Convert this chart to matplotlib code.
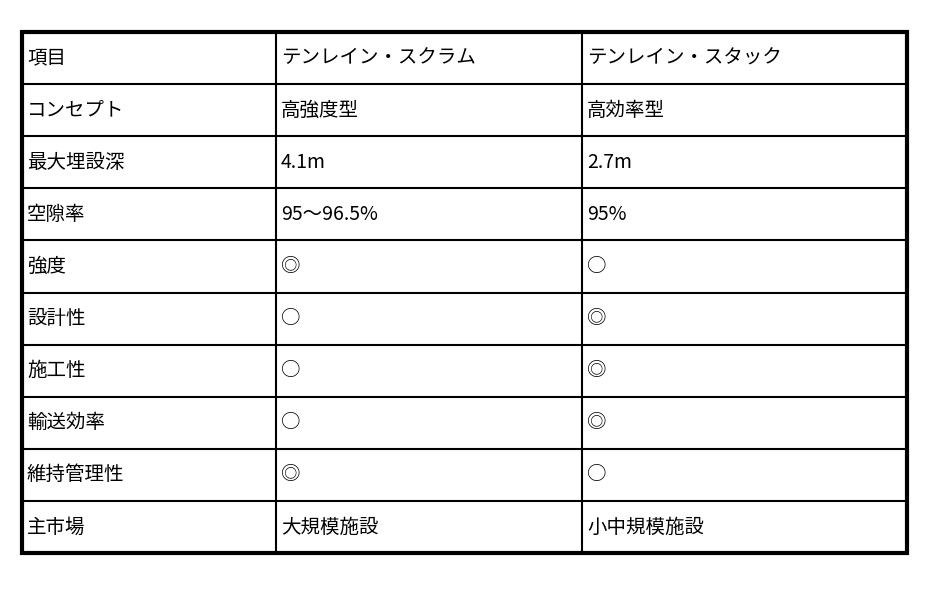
import matplotlib
matplotlib.use("Agg")
import matplotlib.pyplot as plt

plt.rcParams['font.family'] = ['Noto Sans CJK JP', 'DejaVu Sans']

items = ["項目", "コンセプト", "最大埋設深", "空隙率", "強度", "設計性", "施工性", "輸送効率", "維持管理性", "主市場"]
scrum = ["テンレイン・スクラム", "高強度型", "4.1m", "95～96.5%", "◎", "○", "○", "○", "◎", "大規模施設"]
stack = ["テンレイン・スタック", "高効率型", "2.7m", "95%", "○", "◎", "◎", "◎", "○", "小中規模施設"]

W, H = 940, 591
fig = plt.figure(figsize=(W/100, H/100), dpi=100)
ax = fig.add_axes([0, 0, 1, 1])
ax.set_xlim(0, W)
ax.set_ylim(H, 0)
ax.axis('off')

xs = [22, 276, 582, 907]
y0, y1 = 32, 553
n = len(items)
rh = (y1 - y0) / n
for i in range(1, n):
    ax.plot([xs[0], xs[-1]], [y0 + i*rh]*2, color='black', lw=1.5)
for x in xs[1:-1]:
    ax.plot([x, x], [y0, y1], color='black', lw=1.5)
ax.add_patch(plt.Rectangle((xs[0], y0), xs[-1]-xs[0], y1-y0, fill=False, lw=3, ec='black'))

for i in range(n):
    yc = y0 + (i + 0.5) * rh
    for j, col in enumerate([items, scrum, stack]):
        ax.text(xs[j] + 5, yc, col[i], fontsize=14, va='center', ha='left', color='black')

fig.savefig("out.png", dpi=100, facecolor='white')
